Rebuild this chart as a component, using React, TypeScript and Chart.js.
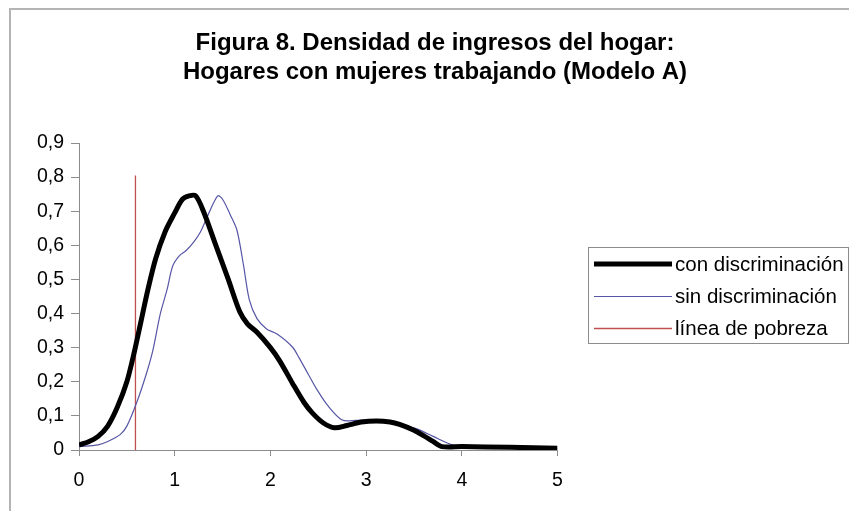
import React, { useEffect, useRef } from 'react';
import { Chart, registerables } from 'chart.js';

Chart.register(...registerables);

const titleLines = ['Figura 8. Densidad de ingresos del hogar:', 'Hogares con mujeres trabajando (Modelo A)'];
const seriesLabels = ['con discriminación', 'sin discriminación', 'línea de pobreza'];

const conX = [0, 0.1, 0.2, 0.3, 0.4, 0.5, 0.58, 0.65, 0.72, 0.8, 0.9, 1.0, 1.08, 1.15, 1.22, 1.3, 1.43, 1.56, 1.68, 1.76, 1.86, 2.0, 2.1, 2.23, 2.35, 2.44, 2.55, 2.67, 2.8, 2.95, 3.11, 3.25, 3.35, 3.5, 3.6, 3.7, 3.79, 4.0, 4.5, 5.0];
const conY = [0.015, 0.024, 0.04, 0.07, 0.125, 0.2, 0.29, 0.38, 0.47, 0.56, 0.64, 0.695, 0.735, 0.745, 0.745, 0.7, 0.6, 0.5, 0.405, 0.37, 0.345, 0.3, 0.26, 0.196, 0.14, 0.108, 0.08, 0.065, 0.072, 0.082, 0.085, 0.082, 0.075, 0.058, 0.042, 0.025, 0.01, 0.01, 0.008, 0.005];

const sinX = [0, 0.2, 0.3, 0.43, 0.5, 0.6, 0.7, 0.77, 0.85, 0.92, 0.98, 1.05, 1.12, 1.2, 1.27, 1.35, 1.45, 1.5, 1.58, 1.65, 1.72, 1.78, 1.86, 1.96, 2.07, 2.23, 2.3, 2.4, 2.48, 2.6, 2.75, 2.9, 3.11, 3.3, 3.53, 3.7, 3.9, 4.0, 4.5, 5.0];
const sinY = [0.01, 0.015, 0.025, 0.045, 0.07, 0.137, 0.22, 0.29, 0.4, 0.47, 0.54, 0.57, 0.585, 0.61, 0.64, 0.69, 0.745, 0.735, 0.69, 0.645, 0.54, 0.44, 0.385, 0.355, 0.34, 0.302, 0.27, 0.22, 0.18, 0.13, 0.088, 0.087, 0.088, 0.078, 0.062, 0.04, 0.015, 0.012, 0.01, 0.005];

const povertyX = [0.59, 0.59];
const povertyY = [0, 0.805];

const xTickLabels = ['0', '1', '2', '3', '4', '5'];
const yTickLabels = ['0', '0,1', '0,2', '0,3', '0,4', '0,5', '0,6', '0,7', '0,8', '0,9'];

const FONT = 'Arial, "Liberation Sans", Helvetica, sans-serif';

const toPoints = (xs: number[], ys: number[]) => xs.map((x, i) => ({ x, y: ys[i] }));

const frameLegendPlugin = {
  id: 'frameLegend',
  beforeDraw(chart: any) {
    const ctx = chart.ctx;
    ctx.save();
    ctx.fillStyle = '#ffffff';
    ctx.fillRect(0, 0, chart.width, chart.height);
    ctx.strokeStyle = '#b4b4b4';
    ctx.lineWidth = 2;
    ctx.strokeRect(10, 9, chart.width + 40, chart.height + 40);
    ctx.restore();
  },
  afterDraw(chart: any) {
    const ctx = chart.ctx;
    ctx.save();
    ctx.strokeStyle = '#8c8c8c';
    ctx.lineWidth = 1;
    ctx.strokeRect(588.5, 247.5, 260, 96);
    const rows = [264, 296.5, 328.5];
    ctx.font = `20.5px ${FONT}`;
    ctx.textBaseline = 'middle';
    ctx.textAlign = 'left';
    chart.data.datasets.forEach((ds: any, i: number) => {
      const y = rows[i];
      ctx.beginPath();
      ctx.strokeStyle = ds.borderColor;
      ctx.lineWidth = ds.borderWidth;
      ctx.moveTo(594, y);
      ctx.lineTo(672, y);
      ctx.stroke();
      ctx.fillStyle = '#000';
      ctx.fillText(ds.label, 675, y + 1);
    });
    ctx.restore();
  },
};

export default function App() {
  const ref = useRef<HTMLCanvasElement>(null);
  useEffect(() => {
    if (!ref.current) return;
    const chart = new Chart(ref.current, {
      type: 'line',
      data: {
        datasets: [
          {
            label: seriesLabels[0],
            data: toPoints(conX, conY),
            borderColor: '#000000',
            borderWidth: 5,
            pointRadius: 0,
            tension: 0.3,
            borderJoinStyle: 'round',
            fill: false,
          },
          {
            label: seriesLabels[1],
            data: toPoints(sinX, sinY),
            borderColor: '#5656a6',
            borderWidth: 1.2,
            pointRadius: 0,
            tension: 0.3,
            fill: false,
          },
          {
            label: seriesLabels[2],
            data: toPoints(povertyX, povertyY),
            borderColor: '#c0504d',
            borderWidth: 1.3,
            pointRadius: 0,
            fill: false,
          },
        ],
      },
      options: {
        responsive: false,
        animation: false,
        events: [],
        layout: { padding: { left: 21, right: 0, top: 0, bottom: 0 } },
        plugins: {
          legend: { display: false },
          tooltip: { enabled: false },
          title: {
            display: true,
            text: titleLines,
            color: '#000',
            font: { family: FONT, size: 24, weight: 'bold', lineHeight: 1.1875 },
            padding: { top: 29.25, bottom: 56.75 },
          },
        },
        scales: {
          x: {
            type: 'linear',
            min: 0,
            max: 5,
            afterFit: (s: any) => { s.height = 61; },
            border: { color: '#8c8c8c', width: 1 },
            grid: { drawOnChartArea: false, drawTicks: true, tickLength: 6, color: '#8c8c8c' },
            ticks: {
              stepSize: 1,
              padding: 13,
              color: '#000',
              font: { family: FONT, size: 19.5 },
              maxRotation: 0,
              callback: (_v: any, i: number) => xTickLabels[i],
            },
          },
          y: {
            type: 'linear',
            min: 0,
            max: 0.9,
            afterFit: (s: any) => { s.width = 58; },
            border: { color: '#8c8c8c', width: 1 },
            grid: { drawOnChartArea: false, drawTicks: true, tickLength: 8, color: '#8c8c8c' },
            ticks: {
              stepSize: 0.1,
              padding: 7,
              color: '#000',
              font: { family: FONT, size: 19.5 },
              callback: (_v: any, i: number) => yTickLabels[i],
            },
          },
          yRight: {
            type: 'linear',
            position: 'right',
            display: true,
            afterFit: (s: any) => { s.width = 291.5; },
            border: { display: false },
            grid: { display: false },
            ticks: { display: false },
          },
        },
      },
      plugins: [frameLegendPlugin],
    } as any);
    return () => chart.destroy();
  }, []);
  return (
    <div style={{ position: 'fixed', left: 0, top: 0, width: 849, height: 511 }}>
      <canvas ref={ref} width={849} height={511} style={{ display: 'block' }} />
    </div>
  );
}
